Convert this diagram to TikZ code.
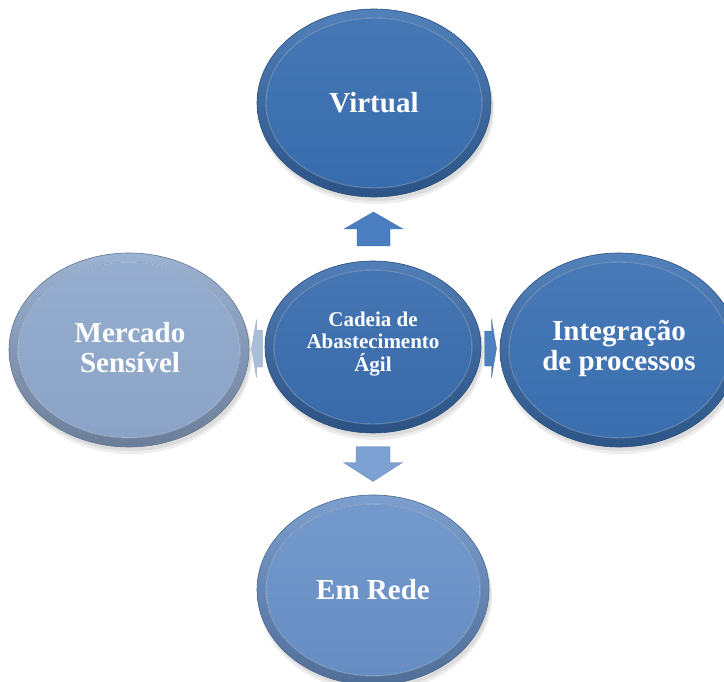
\documentclass[tikz,border=0pt]{standalone}
\usepackage{fontspec}
\setmainfont{Liberation Serif}
\usetikzlibrary{shapes.geometric,calc}

\definecolor{azulVirtual}{HTML}{3A6FB1}
\definecolor{azulCentro}{HTML}{3A6DAE}
\definecolor{azulInteg}{HTML}{3C71B3}
\definecolor{azulMercado}{HTML}{8FA8CC}
\definecolor{azulRede}{HTML}{6A92C9}
\definecolor{setaCima}{HTML}{4A7EC0}
\definecolor{setaBaixo}{HTML}{7EA1D3}
\definecolor{setaEsq}{HTML}{AABDD9}
\definecolor{setaDir}{HTML}{4E7FBF}

\begin{document}
\begin{tikzpicture}[x=1pt,y=-1pt,
    bolha/.style={ellipse, inner sep=0pt, draw=#1!70!black, line width=.6pt,
      top color=#1!88!white, bottom color=#1!75!black},
    sombra/.style={fill=black, opacity=.07},
    rotulo/.style={text=white, align=center, font=\bfseries\fontsize{29}{30}\selectfont},
    seta/.style={draw=#1!85!black, line width=.3pt, fill=#1}]
    \useasboundingbox[fill=white] (0,0) rectangle (724,682);

    % the five ellipses, outer ring + inner face
    \foreach \n/\cx/\cy/\rx/\ry/\c in {virtual/374/103/117/94/azulVirtual,
        mercado/129/350/120/97/azulMercado, centro/373/347/108/86/azulCentro,
        integ/619/350/119/97/azulInteg, rede/373/590/116/95/azulRede}
    {
    \fill[sombra] (\cx+2,\cy+6) ellipse [x radius=\rx+1, y radius=\ry+1];
    \fill[sombra] (\cx+2,\cy+4) ellipse [x radius=\rx, y radius=\ry];
    \node[bolha=\c, minimum width=2*\rx, minimum height=2*\ry] (\n) at (\cx,\cy) {};
    \fill[top color=\c!94!white, bottom color=\c!97!black, draw=white, draw opacity=.28, line width=.9pt]
      (\n) ellipse [x radius=\rx-9, y radius=\ry-9];
    }

    \node[rotulo] (t-virtual) at (virtual) {Virtual};
    \node[rotulo] (t-mercado) at ($(mercado)+(1,-2)$) {Mercado\\Sensível};
    \node[rotulo] (t-integ) at ($(integ)+(0,-2)$) {Integração\\de processos};
    \node[rotulo] (t-rede) at (rede) {Em Rede};
    \node[rotulo, font=\bfseries\fontsize{21}{22.5}\selectfont] (t-centro) at ($(centro)+(0,-3)$)
      {Cadeia de\\Abastecimento\\Ágil};

    % block arrows between the centre and its neighbours
    \coordinate (cima) at ($(centro.north)!.5!(virtual.south)$);
    \coordinate (baixo) at ($(centro.south)!.5!(rede.north)$);
    \coordinate (esq) at ($(centro.west)!.5!(mercado.east)$);
    \coordinate (dir) at ($(centro.east)!.5!(integ.west)$);
    \foreach \p/\r/\L/\H/\W/\S/\c in {cima/90/34/17/29.5/16.5/setaCima,
        baixo/-90/35/19/29.5/17/setaBaixo, esq/180/11/5/29/18.5/setaEsq,
        dir/0/12/5/29.5/17.5/setaDir}
    {
    \begin{scope}[shift={(\p)}, rotate=\r]
    \draw[seta=\c] (-\L/2,-\S) -- (\L/2-\H,-\S) -- (\L/2-\H,-\W) -- (\L/2,0)
      -- (\L/2-\H,\W) -- (\L/2-\H,\S) -- (-\L/2,\S) -- cycle;
    \end{scope}
    }
\end{tikzpicture}
\end{document}
